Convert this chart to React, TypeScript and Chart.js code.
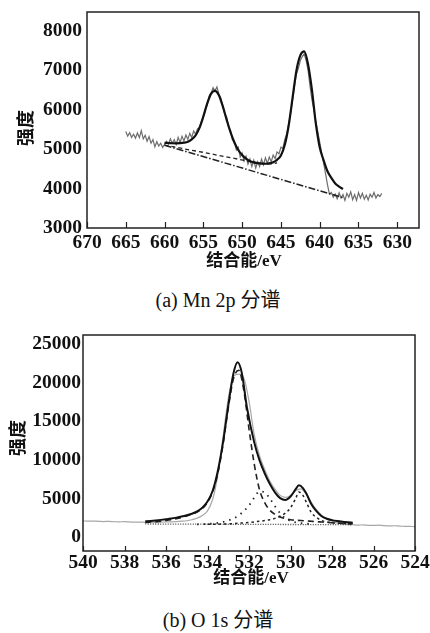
import React, { useEffect, useRef } from 'react';
import { Chart, registerables } from 'chart.js';

Chart.register(...registerables);

// ---------------- (a) Mn 2p ----------------
const mnRawEnergy = [
  665, 664.75, 664.5, 664.25, 664, 663.75, 663.5, 663.25, 663, 662.75, 662.5, 662.25, 662, 661.75, 661.5, 661.25,
  661, 660.75, 660.5, 660.25, 660, 659.75, 659.5, 659.25, 659, 658.75, 658.5, 658.25, 658, 657.75, 657.5, 657.25,
  657, 656.75, 656.5, 656.25, 656, 655.75, 655.5, 655.25, 655, 654.75, 654.5, 654.25, 654, 653.75, 653.5, 653.25,
  653, 652.75, 652.5, 652.25, 652, 651.75, 651.5, 651.25, 651, 650.75, 650.5, 650.25, 650, 649.75, 649.5, 649.25,
  649, 648.75, 648.5, 648.25, 648, 647.75, 647.5, 647.25, 647, 646.75, 646.5, 646.25, 646, 645.75, 645.5, 645.25,
  645, 644.75, 644.5, 644.25, 644, 643.75, 643.5, 643.25, 643, 642.75, 642.5, 642.25, 642, 641.75, 641.5, 641.25,
  641, 640.75, 640.5, 640.25, 640, 639.75, 639.5, 639.25, 639, 638.75, 638.5, 638.25, 638, 637.75, 637.5, 637.25,
  637, 636.75, 636.5, 636.25, 636, 635.75, 635.5, 635.25, 635, 634.75, 634.5, 634.25, 634, 633.75, 633.5, 633.25,
  633, 632.75, 632.5, 632.25, 632,
];
const mnRawIntensity = [
  5450, 5330, 5420, 5300, 5380, 5280, 5410, 5290, 5470, 5260, 5350, 5200, 5320, 5150, 5240, 5060,
  5190, 5080, 5150, 5040, 5120, 5200, 5130, 5260, 5150, 5240, 5120, 5300, 5170, 5330, 5210, 5360,
  5250, 5400, 5300, 5460, 5380, 5520, 5550, 5700, 5820, 6000, 6120, 6350, 6420, 6560, 6480, 6580,
  6400, 6300, 6100, 5900, 5820, 5560, 5480, 5230, 5210, 4980, 5050, 4800, 4900, 4700, 4820, 4620,
  4750, 4560, 4720, 4520, 4680, 4560, 4750, 4600, 4780, 4640, 4800, 4680, 4850, 4760, 4930, 4880,
  5050, 5020, 5250, 5380, 5650, 5900, 6250, 6600, 6900, 7050, 7250, 7350, 7420, 7250, 7000, 6600,
  6250, 6000, 5700, 5450, 5180, 4900, 4650, 4380, 4100, 3860, 3900, 3780, 3860, 3740, 3890, 3760,
  3850, 3700, 3880, 3780, 3920, 3720, 3850, 3700, 3900, 3760, 3880, 3730, 3830, 3710, 3860, 3780,
  3900, 3760, 3850, 3800, 3880,
];
const mnFitEnergy = [
  660, 659.5, 659, 658.5, 658, 657.5, 657, 656.5, 656, 655.5, 655, 654.5, 654, 653.5, 653, 652.5,
  652, 651.5, 651, 650.5, 650, 649.5, 649, 648.5, 648, 647.5, 647, 646.5, 646, 645.5, 645, 644.5,
  644, 643.5, 643, 642.5, 642, 641.5, 641, 640.5, 640, 639.5, 639, 638.5, 638, 637.5, 637,
];
const mnFitIntensity = [
  5160, 5155, 5150, 5148, 5152, 5165, 5190, 5250, 5350, 5540, 5830, 6160, 6410, 6480, 6370, 6090,
  5750, 5430, 5170, 4980, 4850, 4760, 4700, 4665, 4645, 4632, 4630, 4640, 4670, 4730, 4840, 5110,
  5600, 6300, 7000, 7380, 7480, 7150, 6500, 5650, 5050, 4720, 4440, 4270, 4130, 4050, 3990,
];
const mnBgEnergy = [660, 657, 655, 653, 651, 649, 648, 647, 646, 645.5];
const mnBgIntensity = [5105, 4990, 4920, 4840, 4765, 4685, 4650, 4628, 4628, 4650];
const mnBaseEnergy = [660, 637];
const mnBaseIntensity = [5100, 3770];
const mnXTicks = [670, 665, 660, 655, 650, 645, 640, 635, 630];
const mnYTicks = [3000, 4000, 5000, 6000, 7000, 8000];

// ---------------- (b) O 1s ----------------
const oRawEnergy = [
  540, 539.75, 539.5, 539.25, 539, 538.75, 538.5, 538.25, 538, 537.75, 537.5, 537.25, 537, 536.75, 536.5, 536.25,
  536, 535.75, 535.5, 535.25, 535, 534.75, 534.5, 534.25, 534, 533.75, 533.5, 533.25, 533, 532.75, 532.5, 532.25,
  532, 531.75, 531.5, 531.25, 531, 530.75, 530.5, 530.25, 530, 529.75, 529.5, 529.25, 529, 528.75, 528.5, 528.25,
  528, 527.75, 527.5, 527.25, 527, 526.75, 526.5, 526.25, 526, 525.75, 525.5, 525.25, 525, 524.75, 524.5, 524.25,
  524,
];
const oRawIntensity = [
  2100, 2060, 2080, 2040, 2010, 2040, 1990, 1970, 2000, 1960, 1930, 1950, 1910, 1930, 1900, 1940,
  1960, 1980, 2010, 2060, 2120, 2250, 2450, 2800, 3400, 4900, 8100, 13000, 17900, 20800, 21100, 20600,
  17600, 13300, 10600, 8800, 7300, 6200, 5400, 5150, 5400, 6000, 6250, 5600, 4500, 3550, 2850, 2350,
  2050, 1850, 1720, 1640, 1600, 1560, 1580, 1530, 1510, 1540, 1480, 1450, 1470, 1420, 1400, 1380,
  1360,
];
const oFitEnergy = [
  537, 536.75, 536.5, 536.25, 536, 535.75, 535.5, 535.25, 535, 534.75, 534.5, 534.25, 534, 533.75, 533.5, 533.25,
  533, 532.75, 532.55, 532.35, 532.1, 531.75, 531.5, 531.25, 531, 530.75, 530.5, 530.25, 530, 529.75, 529.6, 529.4,
  529.25, 529, 528.75, 528.5, 528.25, 528, 527.75, 527.5, 527.25, 527,
];
const oFitIntensity = [
  2050, 2100, 2160, 2230, 2310, 2400, 2520, 2660, 2830, 3030, 3330, 3800, 4600, 6000, 8600, 12300,
  17000, 21200, 22650, 21300, 16800, 12300, 10000, 8300, 6900, 5800, 5050, 4800, 5250, 6200, 6700, 6350,
  5700, 4300, 3350, 2700, 2380, 2200, 2080, 1990, 1920, 1860,
];
const oMainEnergy = [
  537, 536.5, 536, 535.5, 535, 534.5, 534.25, 534, 533.75, 533.5, 533.25, 533, 532.75, 532.5, 532.25,
  532, 531.75, 531.5, 531.25, 531, 530.75, 530.5, 530, 529.5, 529, 528.5, 528, 527.5, 527,
];
const oMainIntensity = [
  1900, 2000, 2150, 2380, 2750, 3250, 3700, 4500, 5900, 8300, 12000, 16700, 20500, 21600, 19000,
  14000, 9500, 6200, 4500, 3500, 2950, 2600, 2250, 2150, 2050, 1950, 1850, 1780, 1720,
];
const oShoulderEnergy = [534.5, 534, 533.5, 533, 532.5, 532, 531.75, 531.5, 531.25, 531, 530.75, 530.5, 530.25, 530, 529.5, 529];
const oShoulderIntensity = [1650, 1700, 1850, 2150, 2800, 4100, 5100, 5900, 5800, 5000, 4000, 3100, 2450, 2100, 1800, 1700];
const oLatticeEnergy = [534, 533, 532, 531.5, 531, 530.75, 530.5, 530.25, 530, 529.75, 529.6, 529.4, 529.25, 529, 528.75, 528.5, 528, 527.5, 527];
const oLatticeIntensity = [1650, 1720, 1900, 2050, 2250, 2420, 2700, 3100, 3800, 5000, 5850, 5400, 4600, 3200, 2550, 2150, 1880, 1780, 1720];
const oBaseEnergy = [537, 527];
const oBaseIntensity = [1700, 1600];
const oXTicks = [540, 538, 536, 534, 532, 530, 528, 526, 524];
const oYTicks = [0, 5000, 10000, 15000, 20000, 25000];

const xTitleText = '结合能/eV';
const yTitleText = '强度';

const SERIF = '"Liberation Serif", "Times New Roman", serif';
const MIXED = '"Liberation Serif", "Noto Sans CJK SC", sans-serif';

function pts(xs: number[], ys: number[]) {
  return xs.map((x, i) => ({ x, y: ys[i] }));
}

function framePlugin(tickLen: number, xTitle: [number, number], yTitle: [number, number]) {
  return {
    id: 'frameTicks',
    afterDraw(chart: any) {
      const { ctx, chartArea: a, scales } = chart;
      ctx.save();
      ctx.strokeStyle = '#222';
      ctx.lineWidth = 1.5;
      ctx.strokeRect(a.left, a.top, a.right - a.left, a.bottom - a.top);
      ctx.lineWidth = 1.2;
      scales.x.ticks.forEach((t: any) => {
        const px = Math.round(scales.x.getPixelForValue(t.value)) + 0.5;
        ctx.beginPath();
        ctx.moveTo(px, a.bottom);
        ctx.lineTo(px, a.bottom - tickLen);
        ctx.stroke();
      });
      // axis titles
      ctx.fillStyle = '#111';
      ctx.textAlign = 'center';
      ctx.textBaseline = 'middle';
      ctx.font = `bold 17px ${MIXED}`;
      ctx.fillText(xTitleText, xTitle[0], xTitle[1]);
      ctx.translate(yTitle[0], yTitle[1]);
      ctx.rotate(-Math.PI / 2);
      ctx.font = 'bold 18px "Noto Sans CJK SC", sans-serif';
      ctx.fillText(yTitleText, 0, 0);
      ctx.restore();
    },
  };
}

type Cfg = {
  datasets: any[];
  xMin: number; xMax: number; xTicks: number[];
  yMin: number; yMax: number; yTicks: number[];
  yWidth: number; xHeight: number; padding: any;
  xTickPad: number; yTickPad: number; tickLen: number;
  xTitle: [number, number]; yTitle: [number, number];
};

function makeConfig(c: Cfg): any {
  const tickFont = { family: SERIF, size: 19.5, weight: 'bold' };
  return {
    type: 'line',
    data: { datasets: c.datasets },
    plugins: [framePlugin(c.tickLen, c.xTitle, c.yTitle)],
    options: {
      responsive: false,
      animation: false,
      layout: { padding: c.padding },
      plugins: { legend: { display: false }, tooltip: { enabled: false } },
      elements: { point: { radius: 0 } },
      scales: {
        x: {
          type: 'linear',
          reverse: true,
          min: c.xMin,
          max: c.xMax,
          afterBuildTicks: (s: any) => { s.ticks = c.xTicks.map((v) => ({ value: v })); },
          afterFit: (s: any) => { s.height = c.xHeight; s.paddingLeft = 0; s.paddingRight = 0; },
          grid: { display: false, drawTicks: false },
          border: { display: false },
          ticks: {
            color: '#111', font: tickFont, padding: c.xTickPad, maxRotation: 0, autoSkip: false,
            callback: (v: any) => String(v),
          },
        },
        y: {
          type: 'linear',
          min: c.yMin,
          max: c.yMax,
          afterBuildTicks: (s: any) => { s.ticks = c.yTicks.map((v) => ({ value: v })); },
          afterFit: (s: any) => { s.width = c.yWidth; s.paddingTop = 0; s.paddingBottom = 0; },
          grid: { display: false, drawTicks: false },
          border: { display: false },
          ticks: {
            color: '#111', font: tickFont, padding: c.yTickPad, autoSkip: false,
            callback: (v: any) => String(v),
          },
        },
      },
    },
  };
}

function ChartCanvas({ config, width, height, top }: { config: () => any; width: number; height: number; top: number }) {
  const ref = useRef<HTMLCanvasElement | null>(null);
  useEffect(() => {
    if (!ref.current) return;
    const chart = new Chart(ref.current, config());
    return () => chart.destroy();
  }, []);
  return (
    <canvas
      ref={ref}
      width={width}
      height={height}
      style={{ position: 'absolute', left: 0, top, width, height, display: 'block' }}
    />
  );
}

const mnConfig = () =>
  makeConfig({
    datasets: [
      { data: pts(mnFitEnergy, mnFitIntensity), borderColor: '#111', borderWidth: 2.2, cubicInterpolationMode: 'monotone', order: 0 },
      { data: pts(mnBgEnergy, mnBgIntensity), borderColor: '#222', borderWidth: 1.3, borderDash: [4, 3], order: 1 },
      { data: pts(mnBaseEnergy, mnBaseIntensity), borderColor: '#222', borderWidth: 1.5, borderDash: [7, 2, 1.5, 2], order: 2 },
      { data: pts(mnRawEnergy, mnRawIntensity), borderColor: '#6e6e6e', borderWidth: 1.2, tension: 0, order: 3 },
    ],
    xMin: 627.2, xMax: 670, xTicks: mnXTicks,
    yMin: 3000, yMax: 8480, yTicks: mnYTicks,
    yWidth: 87, xHeight: 47,
    padding: { left: 0, right: 11, top: 12, bottom: 0 },
    xTickPad: 3, yTickPad: 5, tickLen: 6,
    xTitle: [244, 262], yTitle: [25, 128],
  });

const oConfig = () =>
  makeConfig({
    datasets: [
      { data: pts(oFitEnergy, oFitIntensity), borderColor: '#111', borderWidth: 2, cubicInterpolationMode: 'monotone', order: 0 },
      { data: pts(oMainEnergy, oMainIntensity), borderColor: '#222', borderWidth: 1.6, borderDash: [6, 4], cubicInterpolationMode: 'monotone', order: 1 },
      { data: pts(oShoulderEnergy, oShoulderIntensity), borderColor: '#222', borderWidth: 1.8, borderDash: [1.5, 5], cubicInterpolationMode: 'monotone', order: 2 },
      { data: pts(oLatticeEnergy, oLatticeIntensity), borderColor: '#222', borderWidth: 1.5, borderDash: [2.5, 3], cubicInterpolationMode: 'monotone', order: 3 },
      { data: pts(oBaseEnergy, oBaseIntensity), borderColor: '#444', borderWidth: 1.3, borderDash: [1, 1.5], order: 4 },
      { data: pts(oRawEnergy, oRawIntensity), borderColor: '#a8a8a8', borderWidth: 1.2, cubicInterpolationMode: 'monotone', order: 5 },
    ],
    xMin: 524, xMax: 540, xTicks: oXTicks,
    yMin: -1800, yMax: 26170, yTicks: oYTicks,
    yWidth: 83, xHeight: 49,
    padding: { left: 0, right: 15, top: 15, bottom: 0 },
    xTickPad: 0, yTickPad: 2, tickLen: 5,
    xTitle: [251, 259], yTitle: [17, 118],
  });

const captionStyle: React.CSSProperties = {
  position: 'absolute',
  left: 0,
  width: 436,
  textAlign: 'center',
  fontFamily: '"Liberation Serif", "Noto Sans CJK SC", serif',
  fontSize: 20,
  lineHeight: '24px',
  color: '#111',
  whiteSpace: 'pre',
};

export default function App() {
  return (
    <div style={{ position: 'fixed', left: 0, top: 0, width: 430, height: 633, background: '#fff', overflow: 'hidden' }}>
      <ChartCanvas config={mnConfig} width={430} height={275} top={0} />
      <div style={{ ...captionStyle, top: 288 }}>(a) Mn 2p 分谱</div>
      <ChartCanvas config={oConfig} width={430} height={280} top={320} />
      <div style={{ ...captionStyle, top: 608 }}>(b) O 1s 分谱</div>
    </div>
  );
}
